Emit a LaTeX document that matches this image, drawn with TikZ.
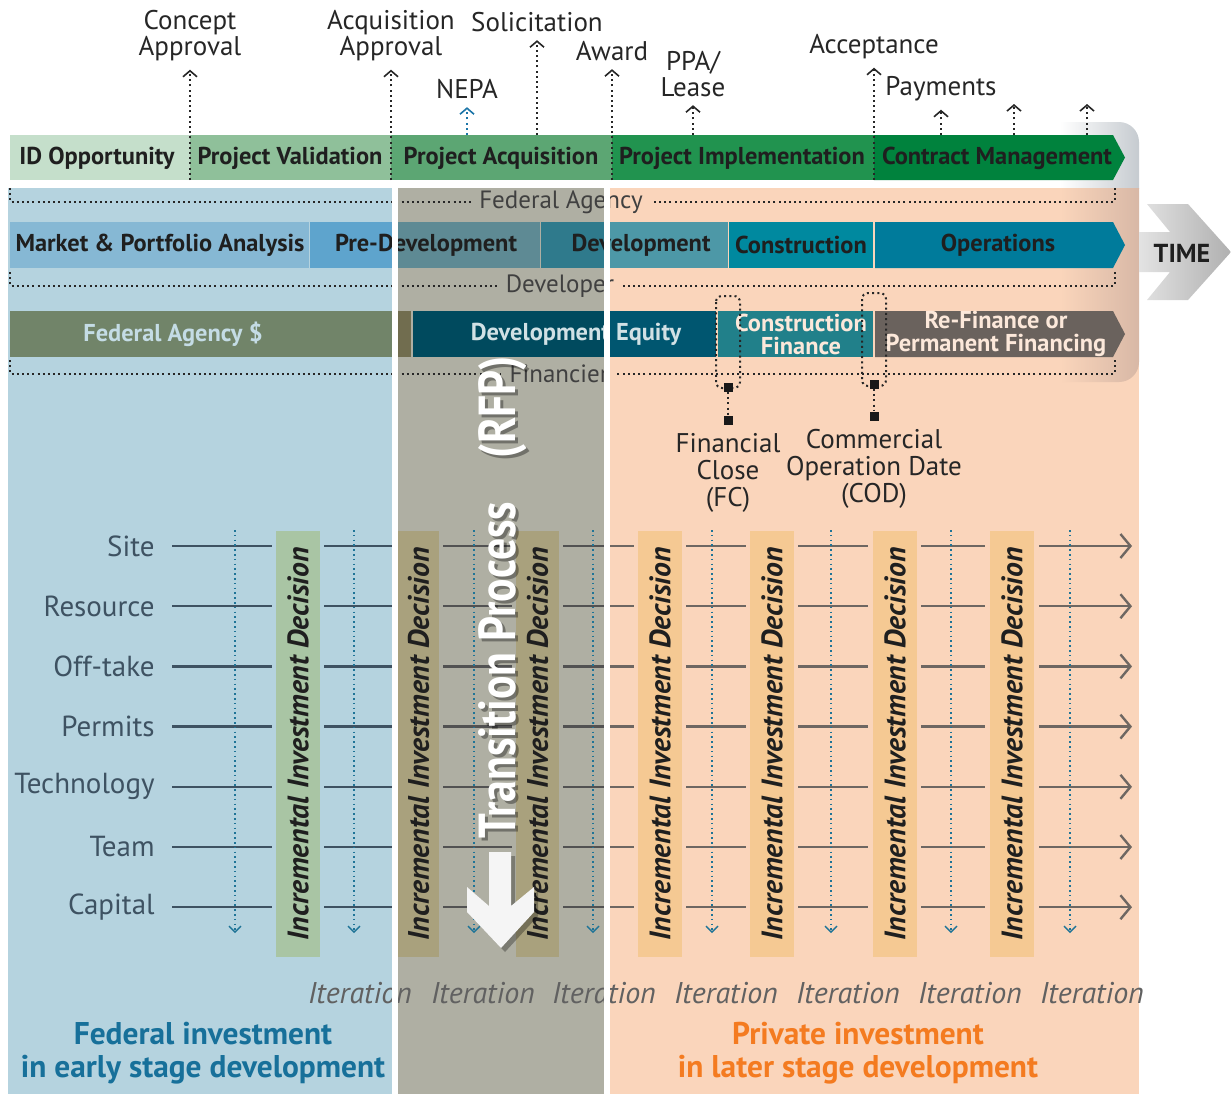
\documentclass[tikz,border=0pt]{standalone}
\usepackage{fontspec}
\setmainfont{PT Sans}
\usetikzlibrary{arrows.meta}
\usetikzlibrary{positioning}

\definecolor{phA}{HTML}{C5DFCB}
\definecolor{phB}{HTML}{8FC09A}
\definecolor{phC}{HTML}{5CA673}
\definecolor{phD}{HTML}{21934F}
\definecolor{phE}{HTML}{00823D}
\definecolor{dvA}{HTML}{86B8D4}
\definecolor{dvB}{HTML}{5EA4CD}
\definecolor{dvBt}{HTML}{5E8A94}
\definecolor{dvC}{HTML}{4D98A7}
\definecolor{dvCt}{HTML}{2F7A8C}
\definecolor{dvD}{HTML}{00899F}
\definecolor{dvE}{HTML}{007B9B}
\definecolor{fnA}{HTML}{718469}
\definecolor{fnAt}{HTML}{716D4F}
\definecolor{fnB}{HTML}{005670}
\definecolor{fnBt}{HTML}{004A5E}
\definecolor{fnC}{HTML}{21808A}
\definecolor{fnD}{HTML}{6A625D}
\definecolor{fedzone}{HTML}{B5D3DF}
\definecolor{privzone}{HTML}{FAD5BB}
\definecolor{transzone}{HTML}{AFAFA3}
\definecolor{backgray}{HTML}{C6CBD0}
\definecolor{backpeach}{HTML}{D8B8A6}
\definecolor{decA}{HTML}{A9C5A4}
\definecolor{decB}{HTML}{A9A17D}
\definecolor{decC}{HTML}{F5C993}
\definecolor{iterblue}{HTML}{1F7497}
\definecolor{nepablue}{HTML}{1C75A8}
\definecolor{fedtext}{HTML}{17709A}
\definecolor{privtext}{HTML}{F47B20}
\definecolor{slate}{HTML}{3E5262}
\definecolor{rowbrown}{HTML}{6E6762}

\tikzset{
mile/.style={ % dotted milestone arrows
  draw=black!85, dash pattern=on 1pt off 1.6pt, line width=1pt,
  -{Straight Barb[length=3pt,width=7pt,line width=0.8pt]}},
mslabel/.style={align=center, inner sep=4pt, text=black!85,
  font=\fontsize{13.5}{13}\selectfont},
fclabel/.style={mslabel, font=\fontsize{13.5}{13.5}\selectfont},
phase/.style={font=\fontsize{12.2}{13}\selectfont\bfseries, text=black!88},
stage/.style={font=\fontsize{12.2}{13}\selectfont\bfseries, text=black!88},
fund/.style={font=\fontsize{12.2}{11.5}\selectfont\bfseries, align=center},
role/.style={font=\fontsize{12.5}{13}\selectfont, text=black!75, inner sep=4pt},
roleline/.style={draw=black!85, dash pattern=on 1pt off 1.6pt, line width=1pt},
sqmark/.style={fill=black!90, minimum size=4.5pt, inner sep=0pt},
rowlbl/.style={anchor=east, inner sep=2pt, font=\fontsize{14.5}{15}\selectfont, text=slate},
rowline/.style={line width=1.2pt},
decision/.style={rotate=90, font=\fontsize{14.8}{15}\selectfont\bfseries\itshape, text=black!88},
iterline/.style={draw=iterblue, dash pattern=on 0.8pt off 1.6pt, line width=0.8pt,
  -{Straight Barb[length=3pt,width=6pt,line width=0.7pt]}},
iter/.style={font=\fontsize{15}{16}\selectfont\itshape, text=black!62},
zonetxt/.style={font=\fontsize{15.7}{16.5}\selectfont\bfseries, align=center},
rfp/.style={rotate=90, font=\fontsize{26}{28}\selectfont\bfseries, text=white}
}

\begin{document}
\begin{tikzpicture}[x=0.5pt,y=-0.5pt]
\useasboundingbox (0,0) rectangle (1231,1094);

% background zones
\fill[fedzone] (8,188) rectangle (392,1094);
\fill[transzone] (398,188) rectangle (604,1094);
\fill[privzone] (610,188) rectangle (1139,1094);
\begin{scope}
  \clip[rounded corners=10pt] (1000,122) rectangle (1139,382);
  \shade[left color=white, right color=backgray] (1060,122) rectangle (1139,188);
  \shade[left color=privzone, right color=backpeach] (1060,188) rectangle (1139,382);
\end{scope}

% time arrow
\shade[left color=gray!22, right color=gray!62] (1139,232) -- (1170,232) -- (1147,204) -- (1188,204) -- (1231,252) -- (1188,300) -- (1147,300) -- (1170,272) -- (1139,272) -- cycle;
\node[font=\fontsize{13}{14}\selectfont\bfseries, text=black!88] (time) at (1182,253) {TIME};

% federal phases
\foreach \xa/\xb/\col/\nm/\xt/\txt in {10/190/phA/idop/97/ID Opportunity, 190/391/phB/pval/290/Project Validation, 391/612/phC/pacq/501/Project Acquisition, 612/874/phD/pimp/742/Project Implementation}{
  \fill[\col] (\xa,135) rectangle (\xb,180);
  \node[phase] (\nm) at (\xt,158) {\txt};
}
\fill[phE] (874,135) -- (1113,135) -- (1125,157.5) -- (1113,180) -- (874,180) -- cycle;
\node[phase] (cman) at (997,158) {Contract Management};

% milestones
\node[mslabel] (ca) at (190,36) {Concept\\Approval};
\coordinate (ca0) at (190,180);
\draw[mile] (ca0) -- (ca);
\node[mslabel] (aa) at (391,36) {Acquisition\\Approval};
\coordinate (aa0) at (391,180);
\draw[mile] (aa0) -- (aa);
\node[mslabel] (sol) at (537,22) {Solicitation};
\coordinate (sol0) at (537,135);
\draw[mile] (sol0) -- (sol);
\node[mslabel] (nepa) at (467,89) {NEPA};
\coordinate (nepa0) at (467,135);
\draw[mile, draw=nepablue] (nepa0) -- (nepa);
\node[mslabel] (aw) at (612,51) {Award};
\coordinate (aw0) at (612,180);
\draw[mile] (aw0) -- (aw);
\node[mslabel] (ppa) at (693,74) {PPA/\\Lease};
\coordinate (ppa0) at (693,135);
\draw[mile] (ppa0) -- (ppa);
\node[mslabel] (acc) at (874,47) {Acceptance};
\coordinate (acc0) at (874,180);
\draw[mile] (acc0) -- (acc);
\node[mslabel] (pay) at (941,89) {Payments};
\coordinate (pay0) at (941,135);
\draw[mile] (pay0) -- (pay);
\foreach \xx [count=\k] in {1014,1087}{
  \coordinate (payb\k) at (\xx,135);
  \coordinate (payt\k) at (\xx,104);
  \draw[mile] (payb\k) -- (payt\k);
}

% developer stages
\foreach \xa/\xb/\col in {10/309/dvA, 310/540/dvB, 541/728/dvC, 729/873/dvD}
  \fill[\col] (\xa,222) rectangle (\xb,268);
\fill[dvE] (875,222) -- (1113,222) -- (1125,245) -- (1113,268) -- (875,268) -- cycle;
% financing
\fill[fnA] (10,311) rectangle (411,357);
\fill[fnB] (413,311) rectangle (716,357);
\fill[fnC] (718,311) rectangle (873,357);
\fill[fnD] (875,311) -- (1113,311) -- (1125,334) -- (1113,357) -- (875,357) -- cycle;
% bar parts inside the transition zone
\fill[dvBt] (398,222) rectangle (540,268);
\fill[dvCt] (541,222) rectangle (604,268);
\fill[fnAt] (398,311) rectangle (411,357);
\fill[fnBt] (413,311) rectangle (604,357);

\node[stage] (mpa) at (160,245) {Market \& Portfolio Analysis};
\node[stage] (predev) at (426,245) {Pre-Development};
\node[stage] (dev) at (641,245) {Development};
\node[stage] (constr) at (801,245) {Construction};
\node[stage] (ops) at (998,245) {Operations};
\node[fund, text=fedzone!80!white] (fedd) at (173,334) {Federal Agency \$};
\node[fund, text=white!82!fnB] (deveq) at (576,334) {Development Equity};
\node[fund, text=privzone!55!white] (cfin) at (801,334) {Construction\\Finance};
\node[fund, text=privzone!55!white] (refi) at (996,334) {Re-Finance or\\Permanent Financing};

% parties
\coordinate (fa0) at (10,188);
\coordinate (fa1) at (1115,188);
\node[role] (fa) at (561,202) {Federal Agency};
\draw[roleline] (fa0) |- (fa);
\draw[roleline] (fa1) |- (fa);
\coordinate (dv0) at (10,272);
\coordinate (dv1) at (1115,272);
\node[role] (dv) at (560,286) {Developer};
\draw[roleline] (dv0) |- (dv);
\draw[roleline] (dv1) |- (dv);
\coordinate (fn0) at (10,360);
\coordinate (fn1) at (1115,360);
\node[role] (fn) at (559,374) {Financier};
\draw[roleline] (fn0) |- (fn);
\draw[roleline] (fn1) |- (fn);

% FC and COD
\draw[roleline, rounded corners=3pt] (716,296) rectangle (740,388);
\node[sqmark] (fcA) at (728,387) {};
\node[sqmark] (fcB) at (728,420) {};
\draw[roleline] (fcA) -- (fcB);
\node[fclabel, below=0pt of fcB] (fc) {Financial\\Close\\(FC)};
\draw[roleline, rounded corners=3pt] (862,293) rectangle (886,386);
\node[sqmark] (codA) at (874,384) {};
\node[sqmark] (codB) at (874,416) {};
\draw[roleline] (codA) -- (codB);
\node[fclabel, below=0pt of codB] (cod) {Commercial\\Operation Date\\(COD)};

% attributes
\foreach \lbl [count=\i] in {Site,Resource,Off-take,Permits,Technology,Team,Capital}{
  \pgfmathsetmacro{\yy}{546+60.2*(\i-1)}
  \node[rowlbl] (row\i) at (159,\yy) {\lbl};
  \foreach \xa/\xb/\col in {172/272/slate, 324/392/slate, 443/512/black!68, 563/604/black!68, 610/634/rowbrown, 686/746/rowbrown, 798/868/rowbrown, 921/985/rowbrown}
    \draw[rowline, \col] (\xa,\yy) -- (\xb,\yy);
  \draw[rowline, rowbrown, -{Straight Barb[length=5pt,width=12pt]}] (1039,\yy) -- (1132,\yy);
}
\foreach \xx in {235,354,474,593,712,831,951,1070}
  \draw[iterline] (\xx,530) -- (\xx,933);

% investment decisions
\foreach \xa/\xb/\col [count=\k] in {276/320/decA, 398/439/decB, 516/559/decB, 638/682/decC, 750/794/decC, 873/917/decC, 990/1034/decC}{
  \fill[\col] (\xa,531) rectangle (\xb,957);
  \node[decision] (dec\k) at ({(\xa+\xb)/2},744) {Incremental Investment Decision};
}
\foreach \xx [count=\k] in {360,483,604,726,848,970,1092}
  \node[iter] (it\k) at (\xx,993) {Iteration};

\node[zonetxt, text=fedtext] (fedinv) at (203,1053) {Federal investment\\in early stage development};
\node[zonetxt, text=privtext] (privinv) at (858,1053) {Private investment\\in later stage development};

% white borders of the transition zone
\fill[white] (392,188) rectangle (398,1094);
\fill[white] (604,188) rectangle (610,1094);

% transition process
\node[rfp, text=black, opacity=.35] (rfpsh) at (506,600) {\scalebox{0.84}[1]{Transition Process\quad(RFP)}};
\node[rfp] (rfptxt) at (503,597) {\scalebox{0.84}[1]{Transition Process\quad(RFP)}};
\fill[black, opacity=.3] (493,856) -- (515,856) -- (515,910) -- (538,891) -- (538,916) -- (505,952) -- (471,916) -- (471,891) -- (493,910) -- cycle;
\fill[white!96!black] (489,852) -- (511,852) -- (511,906) -- (534,887) -- (534,912) -- (501,948) -- (467,912) -- (467,887) -- (489,906) -- cycle;
\end{tikzpicture}
\end{document}
